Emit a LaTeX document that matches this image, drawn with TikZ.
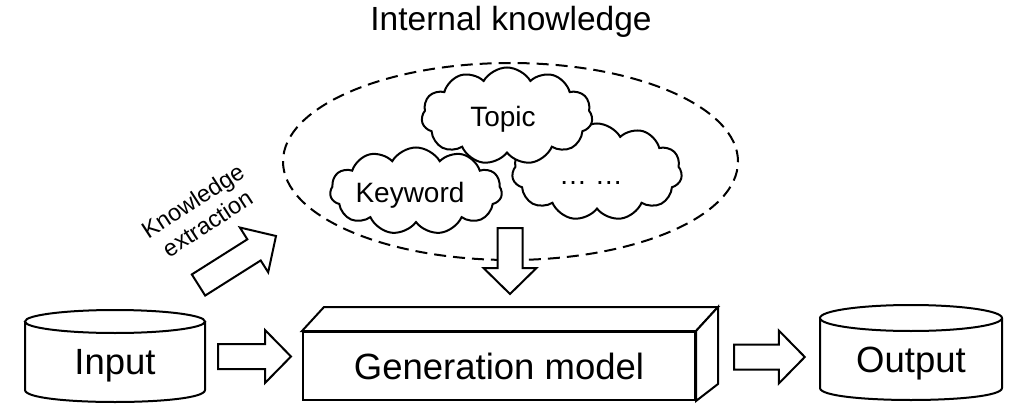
\documentclass[tikz,border=0pt]{standalone}
\usepackage{fontspec}
\setmainfont{Liberation Sans}
\usetikzlibrary{shapes.geometric,shapes.symbols,calc}

\tikzset{
  outline/.style={draw=black, line width=2pt, fill=white, line join=miter},
  cloudbox/.style={outline, cloud, cloud puffs=11, cloud puff arc=120, inner sep=0pt},
  bigtext/.style={font=\fontsize{36.5}{40}\selectfont},
  midtext/.style={font=\fontsize{28}{32}\selectfont},
  fatarrow/.style={outline}
}

% block arrow from tail #1 to tip #2; #3 names its head base
\newcommand{\fatarrow}[3]{%
  \coordinate (#3) at ($(#2)!26pt!(#1)$);
  \draw[fatarrow]
    ($(#1)!12.5pt!90:(#2)$) -- ($(#3)!12.5pt!90:(#2)$) --
    ($(#3)!26.5pt!90:(#2)$) -- (#2) --
    ($(#3)!26.5pt!-90:(#2)$) -- ($(#3)!12.5pt!-90:(#2)$) --
    ($(#1)!12.5pt!-90:(#2)$) -- cycle;
}

\begin{document}
\begin{tikzpicture}[x=1pt, y=-1pt]
\useasboundingbox (0,0) rectangle (1010,404);

% title
\node[font=\fontsize{33.5}{36}\selectfont] (title) at (511,22) {Internal knowledge};

% dashed region holding the knowledge clouds
\node[draw, line width=2pt, dash pattern=on 12pt off 7pt, ellipse,
      minimum width=455pt, minimum height=197pt, inner sep=0pt] (ik) at (510.5,161.5) {};

% clouds
\node[cloudbox, minimum width=172pt, minimum height=87pt, aspect=1.95] (kw) at (416,191) {};
\node[cloudbox, minimum width=170pt, minimum height=97pt, aspect=1.75] (etc) at (597,172) {};
\node[cloudbox, minimum width=171pt, minimum height=97pt, aspect=1.75] (topic) at (507,116) {};
\node[midtext] at ($(topic.center)+(-4,3)$) {Topic};
\node[midtext] at ($(kw.center)+(-6,4)$) {Keyword};
\node[midtext] at ($(etc.center)+(-6,11)$) {\dots\ \dots};

% input and output stores
\node[minimum width=180pt, minimum height=92pt, inner sep=0pt] (input) at (115,356) {};
\draw[outline] (25,321.5) -- (25,390) .. controls (25,406) and (205,406) .. (205,390) -- (205,321.5);
\draw[outline] (115,321.5) ellipse [x radius=90, y radius=11.5];
\node[bigtext] at (115,366) {Input};

\node[minimum width=182pt, minimum height=95pt, inner sep=0pt] (output) at (911,352.5) {};
\draw[outline] (820,318) -- (820,388) .. controls (820,404) and (1002,404) .. (1002,388) -- (1002,318);
\draw[outline] (911,318) ellipse [x radius=91, y radius=13];
\node[bigtext] at (911,364) {Output};

% generation model block
\node[outline, bigtext, minimum width=392pt, minimum height=68pt, inner sep=0pt] (gen) at (499,366) {Generation model};
\draw[outline] (gen.north west) -- ++(22,-24) -- ($(gen.north east)+(22,-24)$) -- (gen.north east) -- cycle;
\draw[outline] (gen.north east) -- ++(22,-24) -- ($(gen.south east)+(22,-17)$) -- (gen.south east) -- cycle;

% flow arrows
\coordinate (inT) at ($(input.east)+(13,0.5)$);
\coordinate (inH) at ($(gen.west)+(-11,-9.5)$);
\fatarrow{inT}{inH}{inB}

\coordinate (outT) at ($(gen.east)+(38,-9)$);
\coordinate (outH) at ($(output.west)+(-15,4.5)$);
\fatarrow{outT}{outH}{outB}

\coordinate (ikT) at ($(ik.south)+(-0.5,-33)$);
\coordinate (ikH) at ($(gen.north)+(11,-37)$);
\fatarrow{ikT}{ikH}{ikB}

\coordinate (exT) at (198.5,285);
\coordinate (exH) at (276,236);
\fatarrow{exT}{exH}{exB}

\node[font=\fontsize{23.5}{27}\selectfont, align=center, rotate=33] (exlab) at (200,212) {Knowledge\\extraction};
\end{tikzpicture}
\end{document}
